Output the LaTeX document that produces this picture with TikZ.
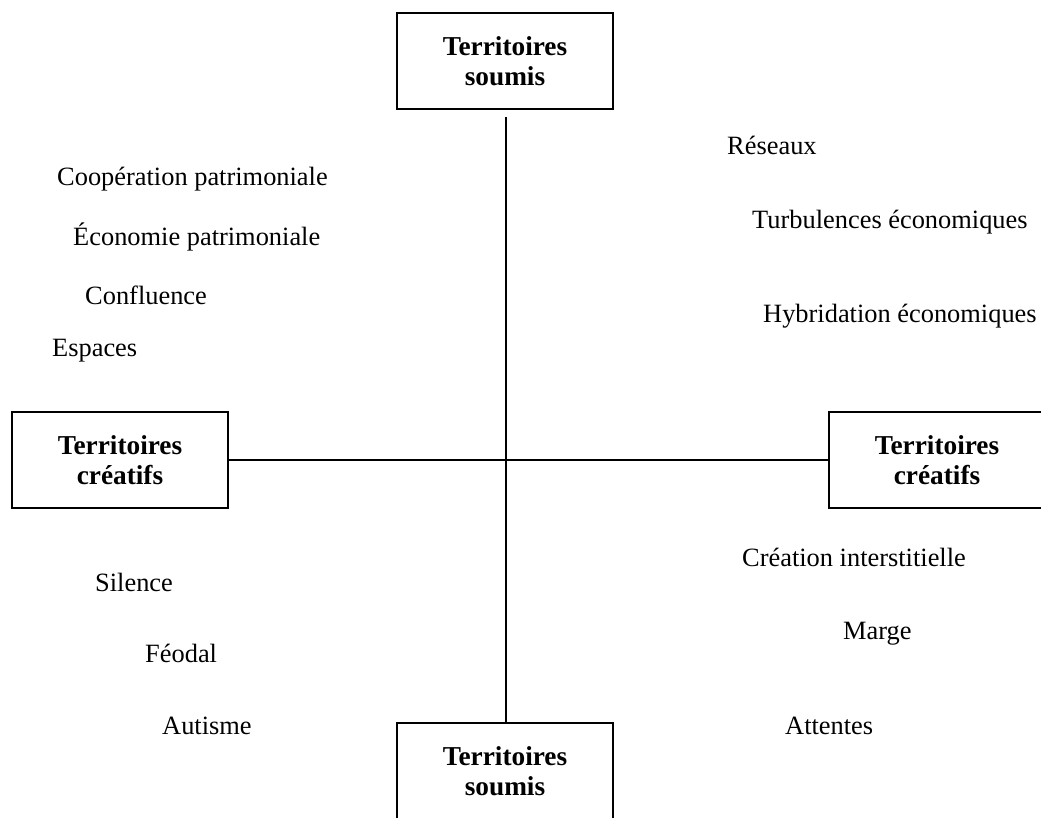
\documentclass[tikz,border=0pt]{standalone}
\usepackage{fontspec}
\setmainfont{Liberation Serif}
\begin{document}
\begin{tikzpicture}[x=1pt,y=-1pt,
  terr/.style={draw,line width=1.6pt,minimum width=216pt,minimum height=96pt,inner sep=0pt,align=center,font=\fontsize{27.3}{30.5}\selectfont\bfseries},
  lab/.style={anchor=base west,inner sep=0pt,font=\fontsize{26.4}{30.5}\selectfont},
  axis/.style={line width=1.6pt}]
\useasboundingbox (0,0) rectangle (1041,817);
\node[terr] (top) at (505,61) {Territoires\\soumis};
\node[terr] (bot) at (505,771) {Territoires\\soumis};
\node[terr] (left) at (120,460) {Territoires\\créatifs};
\node[terr] (right) at (937,460) {Territoires\\créatifs};
\coordinate (vtop) at (506,117);
\coordinate (vbot) at (506,723);
\draw[axis] (vtop) -- (vbot);
\draw[axis] (left.east) -- (right.west);
\node[lab] (l1) at (57,185) {Coopération patrimoniale};
\node[lab] (l2) at (73,245) {Économie patrimoniale};
\node[lab] (l3) at (85,304) {Confluence};
\node[lab] (l4) at (52,356) {Espaces};
\node[lab] (r1) at (727,154) {Réseaux};
\node[lab] (r2) at (752,228) {Turbulences économiques};
\node[lab] (r3) at (763,322) {Hybridation économiques};
\node[lab] (s1) at (95,591) {Silence};
\node[lab] (s2) at (145,662) {Féodal};
\node[lab] (s3) at (162,734) {Autisme};
\node[lab] (c1) at (742,566) {Création interstitielle};
\node[lab] (c2) at (843,639) {Marge};
\node[lab] (c3) at (785,734) {Attentes};
\end{tikzpicture}
\end{document}
